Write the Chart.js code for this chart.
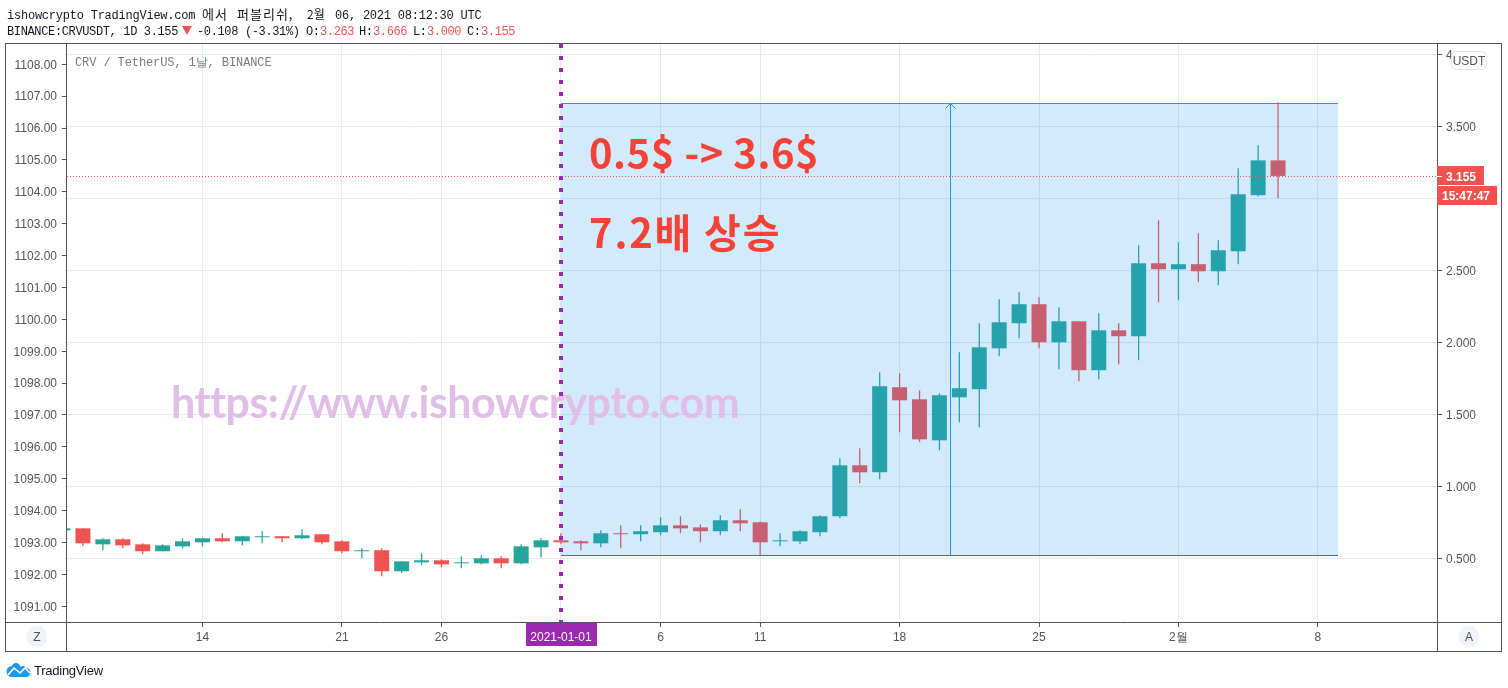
<!DOCTYPE html>
<html>
<head>
<meta charset="utf-8">
<title>CRV / TetherUS</title>
<style>
    html, body { margin: 0; padding: 0; background: #ffffff; overflow: hidden; }
    canvas { display: block; }
</style>
<script src="https://cdn.jsdelivr.net/npm/chart.js@4/dist/chart.umd.min.js"></script>
</head>
<body>
<canvas id="crvChart" width="1508" height="688"></canvas>
<script>
// one candle per day, 2020-12-07 to 2021-02-06
const opens = [
    .694, .708, .597, .632, .597, .549, .583, .611, .639, .618, .646, .653, .639, .667, .618, .549, .556, .410, .472, .486, .465, .465, .500, .465, .576,
    .625, .618, .604, .674, .667, .681, .729, .715, .688, .764, .750, .618, .618, .681, .792, 1.146, 1.097, 1.688, 1.604, 1.319, 1.618, 1.674, 1.958, 2.132, 2.264, 2.000, 2.146, 1.806, 2.083, 2.042, 2.549,
    2.507, 2.542, 2.493, 2.632, 3.021, 3.263
];
const highs = [
    .708, .708, .639, .639, .604, .597, .639, .639, .674, .653, .688, .653, .701, .667, .625, .569, .569, .479, .535, .493, .514, .521, .514, .597, .639,
    .674, .625, .694, .729, .729, .785, .792, .736, .799, .840, .757, .674, .694, .799, 1.194, 1.264, 1.792, 1.785, 1.667, 1.646, 1.931, 2.132, 2.299, 2.347, 2.312, 2.243, 2.146, 2.201, 2.132, 2.674, 2.847,
    2.694, 2.757, 2.708, 3.208, 3.368, 3.666
];
const lows = [
    .694, .583, .556, .569, .528, .549, .569, .583, .611, .590, .604, .611, .632, .597, .535, .500, .375, .396, .451, .438, .431, .458, .431, .458, .507,
    .597, .556, .576, .569, .618, .660, .674, .611, .660, .688, .521, .583, .597, .653, .778, 1.021, 1.049, 1.375, 1.306, 1.250, 1.444, 1.410, 1.903, 2.028, 1.958, 1.813, 1.729, 1.743, 1.847, 1.875, 2.278,
    2.292, 2.417, 2.396, 2.542, 3.014, 3.000
];
const closes = [
    .708, .604, .632, .590, .549, .590, .618, .639, .618, .653, .653, .639, .660, .611, .549, .556, .410, .479, .486, .458, .472, .500, .465, .583, .625,
    .611, .604, .674, .667, .688, .729, .708, .688, .764, .743, .611, .625, .688, .792, 1.146, 1.097, 1.694, 1.597, 1.326, 1.632, 1.681, 1.965, 2.139, 2.264, 2.000, 2.146, 1.806, 2.083, 2.042, 2.549, 2.507,
    2.542, 2.493, 2.639, 3.028, 3.263, 3.155
];

// days counted from 2021-01-01
const firstDay = -25;
const days = closes.map((_, i) => firstDay + i);

const dayTicks = [-18, -11, -6, 0, 5, 10, 17, 24, 31, 38];
const dayLabels = ["14", "21", "26", "2021-01-01", "6", "11", "18", "25", "2월", "8"];
const priceTicks = [0.5, 1, 1.5, 2, 2.5, 3, 3.5, 4];
const priceLabels = ["0.500", "1.000", "1.500", "2.000", "2.500", "3.000", "3.500", "4"];
const leftTicks = [1091, 1092, 1093, 1094, 1095, 1096, 1097, 1098, 1099, 1100, 1101, 1102, 1103, 1104, 1105, 1106, 1107, 1108];

const rangeDays = [0, 39];
const rangePrices = [0.521, 3.657];
const lastPrice = 3.155;

const TEAL = "#26a69a";
const RED = "#ef5350";
const AXIS = "#50535e";
const GRID = "#e1ecf2";
const PURPLE = "#9c27b0";
const MONO = '"Liberation Mono", monospace';
const SANS = '"Liberation Sans", sans-serif';
const KR = '"Noto Sans CJK KR", sans-serif';

const candleColors = closes.map((c, i) => (c >= opens[i] ? TEAL : RED));

function text(ctx, str, x, y, font, color, align, spacing) {
    ctx.font = font;
    ctx.fillStyle = color;
    ctx.textAlign = align || "left";
    ctx.textBaseline = "alphabetic";
    ctx.letterSpacing = spacing || "0px";
    ctx.fillText(str, x, y);
    ctx.letterSpacing = "0px";
}

function line(ctx, x1, y1, x2, y2, color) {
    ctx.strokeStyle = color;
    ctx.lineWidth = 1;
    ctx.beginPath();
    ctx.moveTo(x1, y1);
    ctx.lineTo(x2, y2);
    ctx.stroke();
}

function drawHeader(ctx) {
    const f = "12px " + MONO;
    text(ctx, "ishowcrypto TradingView.com", 7, 19, f, "#131722", "left", "-0.23px");
    text(ctx, "에서", 202, 19, "13px " + KR, "#131722", "left", "1px");
    text(ctx, "퍼블리쉬,", 237, 19, "13px " + KR, "#131722", "left", "1px");
    text(ctx, "2월", 307, 19, "12px " + KR, "#131722");
    text(ctx, "06, 2021 08:12:30 UTC", 335, 19, f, "#131722", "left", "-0.23px");

    text(ctx, "BINANCE:CRVUSDT, 1D 3.155", 7, 35, f, "#131722", "left", "-0.36px");
    ctx.fillStyle = RED;
    ctx.beginPath();
    ctx.moveTo(182, 26);
    ctx.lineTo(192, 26);
    ctx.lineTo(187, 35);
    ctx.fill();
    text(ctx, "-0.108 (-3.31%)", 197, 35, f, "#131722", "left", "-0.36px");
    [["O:", "3.263", 306], ["H:", "3.666", 359], ["L:", "3.000", 413], ["C:", "3.155", 467]].forEach(([k, v, x]) => {
        text(ctx, k, x, 35, f, "#131722", "left", "-0.36px");
        text(ctx, v, x + 14, 35, f, RED, "left", "-0.36px");
    });
}

function drawFrame(ctx, area) {
    ctx.strokeStyle = AXIS;
    ctx.lineWidth = 1;
    ctx.strokeRect(5.5, 43.5, 1496, 608);
    line(ctx, 66.5, 44, 66.5, 651, AXIS);
    line(ctx, area.right + 0.5, 44, area.right + 0.5, 651, AXIS);
    line(ctx, 6, area.bottom + 0.5, 1501, area.bottom + 0.5, AXIS);

    // Z and A buttons under the price scales
    [["Z", 37], ["A", 1469]].forEach(([s, x]) => {
        ctx.fillStyle = "#f0f3fa";
        ctx.beginPath();
        ctx.arc(x, 636.5, 10.5, 0, Math.PI * 2);
        ctx.fill();
        text(ctx, s, x, 641, "12px " + SANS, AXIS, "center");
    });
}

function drawLogo(ctx) {
    ctx.fillStyle = "#2196f3";
    ctx.beginPath();
    ctx.arc(12, 671.5, 5.5, 0, Math.PI * 2);
    ctx.arc(16, 667.5, 4.5, 0, Math.PI * 2);
    ctx.fill();
    ctx.beginPath();
    ctx.arc(23, 669.5, 3.5, 0, Math.PI * 2);
    ctx.arc(26, 672.5, 4.5, 0, Math.PI * 2);
    ctx.fill();
    ctx.fillRect(10, 670, 17, 7);
    ctx.strokeStyle = "#ffffff";
    ctx.lineWidth = 1.6;
    ctx.beginPath();
    ctx.moveTo(8, 675);
    ctx.lineTo(14, 668);
    ctx.lineTo(20, 673);
    ctx.lineTo(25, 668);
    ctx.lineTo(30, 673);
    ctx.stroke();
    text(ctx, "TradingView", 34, 675, "13px " + SANS, "#131722", "left", "-0.25px");
}

const overlayPlugin = {
    id: "overlay",

    beforeDraw(chart) {
        // date badge goes under the axis label
        const ctx = chart.ctx;
        const x = chart.scales.x.getPixelForValue(0);
        ctx.fillStyle = PURPLE;
        ctx.fillRect(x - 35, chart.chartArea.bottom, 71, 24);
    },

    afterDatasetsDraw(chart) {
        const ctx = chart.ctx;
        const area = chart.chartArea;
        const sx = chart.scales.x;
        const sy = chart.scales.price;

        ctx.save();

        // price range box, sits on top of the candles
        const x1 = Math.round(sx.getPixelForValue(rangeDays[0]));
        const x2 = Math.round(sx.getPixelForValue(rangeDays[1]));
        const y1 = Math.floor(sy.getPixelForValue(rangePrices[1])) + 0.5;
        const y2 = Math.floor(sy.getPixelForValue(rangePrices[0])) + 0.5;
        ctx.fillStyle = "rgba(33,150,243,0.2)";
        ctx.fillRect(x1, y1, x2 - x1, y2 - y1);
        line(ctx, x1, y1, x2, y1, "#2196f3");
        line(ctx, x1, y2, x2, y2, "#2679bd");

        const mid = Math.ceil((x1 + x2) / 2) + 0.5;
        line(ctx, mid, y2, mid, y1, "#2196f3");
        line(ctx, mid - 5, y1 + 5, mid, y1, "#2196f3");
        line(ctx, mid + 5, y1 + 5, mid, y1, "#2196f3");

        // last price line
        const py = Math.round(sy.getPixelForValue(lastPrice));
        ctx.setLineDash([1, 2]);
        line(ctx, area.left, py + 0.5, area.right, py + 0.5, RED);
        ctx.setLineDash([]);

        // annotations
        text(ctx, "CRV / TetherUS, 1날, BINANCE", 75, 66, "12px " + MONO, "#787b86", "left", "-0.1px");
        text(ctx, "https://www.ishowcrypto.com", 171, 418, "bold 43px Lato", "#e1bee7", "left", "-0.48px");
        text(ctx, "0.5$ -> 3.6$", 589, 168, "bold 40px " + KR, "#f44336", "left", "0.5px");
        text(ctx, "7.2배 상승", 589, 248, "bold 40px " + KR, "#f44336", "left", "1.8px");

        // vertical marker at the first of january
        const mx = Math.round(sx.getPixelForValue(0));
        ctx.strokeStyle = PURPLE;
        ctx.lineWidth = 4;
        ctx.setLineDash([4, 8]);
        ctx.beginPath();
        ctx.moveTo(mx, area.top);
        ctx.lineTo(mx, area.bottom);
        ctx.stroke();
        ctx.setLineDash([]);

        drawFrame(ctx, area);

        // price scale labels
        ctx.fillStyle = RED;
        ctx.fillRect(area.right, py - 10, 47, 19);
        ctx.fillRect(area.right, py + 10, 60, 19);
        line(ctx, area.right, py + 0.5, area.right + 5, py + 0.5, "#ffffff");
        text(ctx, "3.155", area.right + 9, py + 5, "bold 12px " + SANS, "#ffffff");
        text(ctx, "15:47:47", area.right + 5, py + 24, "bold 12px " + SANS, "#ffffff");

        ctx.fillStyle = "#ffffff";
        ctx.strokeStyle = "#e0e3eb";
        ctx.lineWidth = 1;
        ctx.beginPath();
        ctx.roundRect(1451.5, 51.5, 35, 18, 5);
        ctx.fill();
        ctx.stroke();
        text(ctx, "USDT", 1469, 65, "12px " + SANS, AXIS, "center");

        drawHeader(ctx);
        drawLogo(ctx);

        ctx.restore();
    }
};

new Chart(document.getElementById("crvChart").getContext("2d"), {
    type: "bar",

    data: {
        datasets: [{
            label: "wick",
            data: days.map((d, i) => ({ x: d, y: [lows[i], highs[i]] })),
            yAxisID: "price",
            backgroundColor: candleColors,
            barThickness: 1.3,
            inflateAmount: 0,
            grouped: false,
            order: 2
        }, {
            label: "body",
            data: days.map((d, i) => ({ x: d, y: [opens[i], closes[i]] })),
            yAxisID: "price",
            backgroundColor: candleColors,
            barThickness: 15,
            inflateAmount: 0,
            grouped: false,
            order: 1
        }]
    },

    plugins: [overlayPlugin],

    options: {
        responsive: false,
        animation: false,
        devicePixelRatio: 1,

        layout: {
            padding: { top: 44 }
        },

        plugins: {
            legend: { display: false },
            tooltip: { enabled: false }
        },

        scales: {

            x: {
                type: "linear",
                offset: false,
                min: -24.8,
                max: 43.98,
                afterFit: scale => { scale.height = 66; },
                afterBuildTicks: scale => { scale.ticks = dayTicks.map(value => ({ value })); },
                border: { display: false },

                grid: {
                    offset: false,
                    color: GRID,
                    tickColor: AXIS,
                    tickLength: 5
                },

                ticks: {
                    autoSkip: false,
                    maxRotation: 0,
                    padding: 3,
                    font: { family: SANS, size: 12 },
                    color: ctx => (ctx.tick && ctx.tick.value === 0 ? "#ffffff" : AXIS),
                    callback: value => dayLabels[dayTicks.indexOf(value)]
                }
            },

            left: {
                position: "left",
                min: 1090.507,
                max: 1108.636,
                afterFit: scale => { scale.width = 67; },
                afterBuildTicks: scale => { scale.ticks = leftTicks.map(value => ({ value })); },
                border: { display: false },

                grid: {
                    drawOnChartArea: false,
                    tickColor: AXIS,
                    tickLength: 5
                },

                ticks: {
                    autoSkip: false,
                    padding: 5,
                    labelOffset: 1,
                    font: { family: SANS, size: 12 },
                    color: AXIS,
                    callback: value => value.toFixed(2)
                }
            },

            price: {
                position: "right",
                min: 0.0577,
                max: 4.0711,
                afterFit: scale => { scale.width = 71; },
                afterBuildTicks: scale => { scale.ticks = priceTicks.map(value => ({ value })); },
                border: { display: false },

                grid: {
                    color: GRID,
                    tickColor: AXIS,
                    tickLength: 5
                },

                ticks: {
                    autoSkip: false,
                    padding: 4,
                    labelOffset: 1,
                    font: { family: SANS, size: 12 },
                    color: AXIS,
                    callback: value => priceLabels[priceTicks.indexOf(value)]
                }
            }
        }
    }
});
</script>
</body>
</html>
